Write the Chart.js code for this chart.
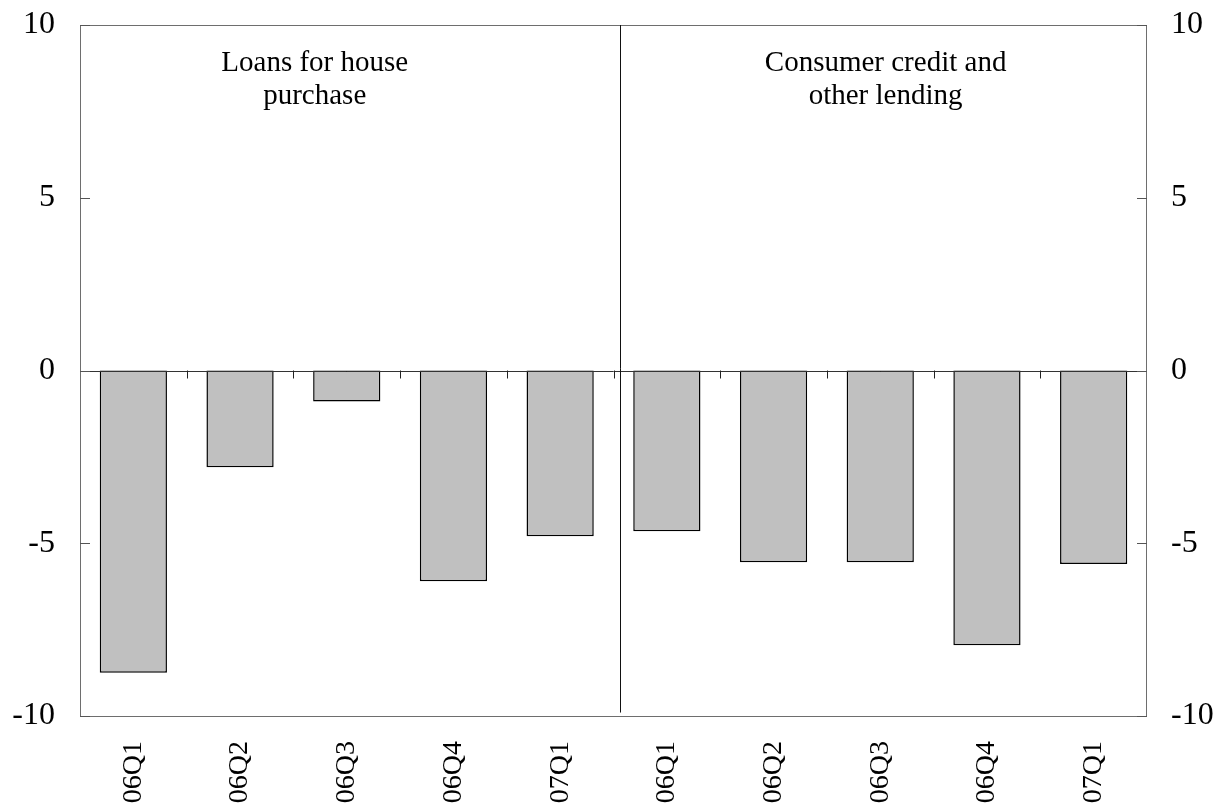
<!DOCTYPE html>
<html>
<head>
<meta charset="utf-8">
<script src="https://cdn.jsdelivr.net/npm/chart.js@4/dist/chart.umd.min.js"></script>
<style>
  html, body { margin: 0; padding: 0; background: #fff; }
  #wrap { width: 1225px; height: 805px; position: relative; }
</style>
</head>
<body>
<div id="wrap"><canvas id="chart"></canvas></div>
<script>
// data
const quarters = ['06Q1', '06Q2', '06Q3', '06Q4', '07Q1'];
const housePurchase = [-8.75, -2.8, -0.9, -6.1, -4.8];
const consumerCredit = [-4.65, -5.55, -5.55, -7.95, -5.6];
const panelTitles = [
    ['Loans for house', 'purchase'],
    ['Consumer credit and', 'other lending']
];
const yMin = -10, yMax = 10, yStep = 5;

const categories = quarters.concat(quarters);
const values = housePurchase.concat(consumerCredit);

const FONT = "'Liberation Serif', 'Times New Roman', serif";

// where the panel titles / divider sit, in axis units
const titleX = [1.7, 7.05];
const titleY = [8.67, 7.7];
const dividerX = 4.56;

const framePlugin = {
    id: 'frame',
    afterDraw(chart) {
        const ctx = chart.ctx;
        const area = chart.chartArea;
        const x = chart.scales.x;
        const y = chart.scales.y;
        const y0 = y.getPixelForValue(0);
        ctx.save();

        // frame
        ctx.strokeStyle = '#6e6e6e';
        ctx.lineWidth = 1;
        ctx.strokeRect(area.left + 0.5, area.top + 0.5, area.right - area.left - 1, area.bottom - area.top);

        // zero line
        ctx.strokeStyle = '#333';
        ctx.beginPath();
        ctx.moveTo(area.left, Math.round(y0) + 0.5);
        ctx.lineTo(area.right, Math.round(y0) + 0.5);
        ctx.stroke();

        // inward y ticks both sides
        ctx.strokeStyle = '#555';
        y.ticks.forEach(t => {
            const py = Math.round(y.getPixelForValue(t.value)) + 0.5;
            ctx.beginPath();
            ctx.moveTo(area.left, py);
            ctx.lineTo(area.left + 10, py);
            ctx.moveTo(area.right, py);
            ctx.lineTo(area.right - 10, py);
            ctx.stroke();
        });

        // category boundary ticks hanging from the zero line
        ctx.strokeStyle = '#222';
        for (let i = 0; i < categories.length - 1; i++) {
            const px = Math.round(x.getPixelForValue(i + 0.5)) + 0.5;
            ctx.beginPath();
            ctx.moveTo(px, y0);
            ctx.lineTo(px, y0 + 8);
            ctx.stroke();
        }

        // panel divider
        const dx = Math.round(x.getPixelForValue(dividerX)) + 0.5;
        ctx.strokeStyle = '#111';
        ctx.beginPath();
        ctx.moveTo(dx, area.top);
        ctx.lineTo(dx, y.getPixelForValue(-9.9));
        ctx.stroke();

        // panel titles
        ctx.fillStyle = '#000';
        ctx.font = '29px ' + FONT;
        ctx.textAlign = 'center';
        ctx.textBaseline = 'alphabetic';
        panelTitles.forEach((lines, k) => {
            const px = x.getPixelForValue(titleX[k]);
            lines.forEach((line, j) => {
                ctx.fillText(line, px, y.getPixelForValue(titleY[j]));
            });
        });
        ctx.restore();
    }
};

const ctx = document.getElementById('chart');
new Chart(ctx, {
    type: 'bar',
    data: {
        labels: categories,
        datasets: [{
            data: values,
            backgroundColor: '#c0c0c0',
            borderColor: '#000',
            borderWidth: 1.5,
            borderSkipped: false,
            barPercentage: 0.63,
            categoryPercentage: 1.0
        }]
    },
    options: {
        responsive: true,
        maintainAspectRatio: false,
        animation: false,
        layout: { padding: { top: 25, left: 0, right: 0, bottom: 0 } },
        plugins: {
            legend: { display: false },
            tooltip: { enabled: false }
        },
        scales: {
            x: {
                grid: { display: false, drawTicks: false },
                border: { display: false },
                ticks: {
                    color: '#000',
                    font: { family: FONT, size: 28 },
                    minRotation: 90,
                    maxRotation: 90,
                    padding: 25,
                    autoSkip: false
                },
                afterFit(scale) {
                    scale.height = 89;
                    scale.paddingLeft = 0;
                    scale.paddingRight = 0;
                }
            },
            y: {
                position: 'left',
                min: yMin,
                max: yMax,
                grid: { display: false, drawTicks: false },
                border: { display: false },
                ticks: {
                    stepSize: yStep,
                    color: '#000',
                    font: { family: FONT, size: 32 },
                    padding: 25
                },
                afterFit(scale) {
                    scale.width = 80;
                    scale.paddingTop = 0;
                    scale.paddingBottom = 0;
                }
            },
            y2: {
                position: 'right',
                display: true,
                min: yMin,
                max: yMax,
                grid: { display: false, drawTicks: false },
                border: { display: false },
                ticks: {
                    stepSize: yStep,
                    color: '#000',
                    font: { family: FONT, size: 32 },
                    padding: 24
                },
                afterFit(scale) {
                    scale.width = 78;
                    scale.paddingTop = 0;
                    scale.paddingBottom = 0;
                }
            }
        }
    },
    plugins: [framePlugin]
});
</script>
</body>
</html>
